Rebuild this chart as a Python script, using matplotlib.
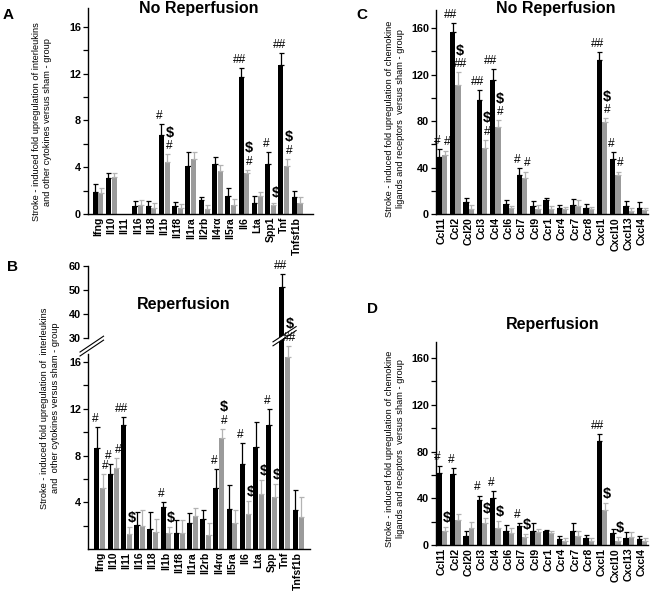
import matplotlib
matplotlib.use('Agg')
import matplotlib.pyplot as plt
import numpy as np
from matplotlib.transforms import blended_transform_factory
from matplotlib.patches import Polygon

plt.rcParams['font.family'] = ['Liberation Sans', 'DejaVu Sans']
plt.rcParams['font.weight'] = 'bold'

BLACK = '#000000'
GREY = '#9b9b9b'
GREY_ERR = '#b3b3b3'

# ---- Panel A: interleukins, no reperfusion ----
cats_A = ['Ifng', 'Il10', 'Il11', 'Il16', 'Il18', 'Il1b', 'Il1f8', 'Il1ra', 'Il2rb',
          'Il4rα', 'Il5ra', 'Il6', 'Lta', 'Spp1', 'Tnf', 'Tnfsf1b']
A_black = [1.85, 3.1, 0, 0.72, 0.67, 6.75, 0.7, 4.1, 1.2, 4.26, 1.5, 11.7, 0.93, 4.3, 12.7, 1.48]
A_black_err = [0.75, 0.4, 0, 0.35, 0.4, 0.9, 0.34, 1.2, 0.25, 0.64, 0.7, 0.8, 0.57, 1.0, 1.05, 0.46]
A_grey = [1.8, 3.2, 0, 0.75, 0.52, 4.43, 0.5, 4.7, 0.43, 3.7, 0.8, 3.48, 1.5, 0.78, 4.06, 0.96]
A_grey_err = [0.4, 0.3, 0, 0.45, 0.4, 0.67, 0.37, 0.6, 0.32, 0.47, 0.47, 0.29, 0.4, 0.2, 0.64, 0.49]
A_black_marks = ['', '', '', '', '', '#', '', '', '', '', '', '##', '', '#', '##', '']
A_grey_marks = ['', '', '', '', '', '# $', '', '', '', '', '', '# $', '', '$', '# $', '']

# ---- Panel B: interleukins, reperfusion ----
cats_B = ['Ifng', 'Il10', 'Il11', 'Il16', 'Il18', 'Il1b', 'Il1f8', 'Il1ra', 'Il2rb',
          'Il4rα', 'Il5ra', 'Il6', 'Lta', 'Spp', 'Tnf', 'Tnfsf1b']
B_black = [8.6, 6.4, 10.6, 2.08, 1.67, 3.63, 1.4, 2.25, 2.6, 5.18, 3.42, 7.28, 8.77, 10.6, 51.2, 3.36]
B_black_err = [1.85, 0.9, 0.7, 1.11, 1.53, 0.37, 1.09, 0.85, 0.7, 1.69, 2.02, 1.82, 2.08, 1.36, 5.5, 1.67]
B_grey = [5.26, 6.93, 1.32, 2.0, 1.46, 1.4, 1.4, 2.8, 1.2, 9.47, 2.19, 2.98, 4.74, 4.44, 18.9, 2.78]
B_grey_err = [1.17, 0.82, 0.58, 1.33, 1.08, 0.47, 1.09, 0.7, 1.0, 0.83, 1.14, 1.12, 1.16, 1.09, 6.4, 1.66]
B_black_marks = ['#', '#', '##', '', '', '#', '', '', '', '#', '', '#', '', '#', '##', '']
B_grey_marks = ['#', '#', '$', '', '', '$', '', '', '', '# $', '', '$', '$', '$', '## $', '']

# ---- Panels C/D: chemokines ----
cats_C = ['Ccl11', 'Ccl2', 'Ccl20', 'Ccl3', 'Ccl4', 'Ccl6', 'Ccl7', 'Ccl9', 'Ccr1', 'Ccr4',
          'Ccr7', 'Ccr8', 'Cxcl1', 'Cxcl10', 'Cxcl13', 'Cxcl4']
C_black = [48.8, 156.6, 9.9, 98, 115, 8.5, 33.3, 7, 11.7, 5, 7.9, 5, 132.7, 47.3, 7.3, 5]
C_black_err = [6.7, 7.4, 3.8, 8.5, 9.8, 3.8, 6.1, 3.8, 2.0, 2.6, 4.9, 3.5, 6.3, 5.7, 3.5, 4.9]
C_grey = [51.1, 111, 4.1, 56.6, 75, 5, 30.7, 4.7, 4.1, 4.1, 7.3, 4.1, 79, 33.3, 2.6, 3.5]
C_grey_err = [3.5, 11, 3.5, 7.4, 5.6, 2.3, 5.8, 2.9, 2.9, 2.3, 4.4, 2.3, 3.5, 3.2, 2.4, 2.0]
C_black_marks = ['#', '##', '', '##', '##', '', '#', '', '', '', '', '', '##', '#', '', '']
C_grey_marks = ['#', '## $', '', '# $', '# $', '', '#', '', '', '', '', '', '# $', '#', '', '']

cats_D = cats_C
D_black = [61.3, 60.7, 7.3, 38.8, 40, 11.7, 16.6, 12.3, 11.7, 5.5, 12.3, 5.8, 89.1, 10.2, 5.8, 5]
D_black_err = [6.7, 5.0, 5.0, 3.5, 5.8, 5.8, 2.4, 6.1, 1.4, 1.8, 6.1, 3.0, 5.9, 3.8, 5.0, 2.9]
D_grey = [12.3, 21.3, 14.6, 18.4, 14.6, 10.2, 6.7, 10.8, 10.2, 3.8, 7.9, 3.8, 29.8, 3.8, 6.7, 3.8]
D_grey_err = [3.2, 5.6, 5.0, 4.4, 5.8, 4.4, 2.9, 3.2, 2.1, 2.0, 4.4, 2.0, 5.8, 2.9, 4.3, 2.0]
D_black_marks = ['#', '#', '', '#', '#', '', '#', '', '', '', '', '', '##', '', '', '']
D_grey_marks = ['$', '', '', '$', '$', '', '$', '', '', '', '', '', '$', '$', '', '']

W, H = 660, 600


def px_axes(left, top, right, bottom):
    return [left / W, 1 - bottom / H, (right - left) / W, (bottom - top) / H]


def draw_bars(ax, n, black, black_err, grey, grey_err, bmarks, gmarks, width, offset):
    x = np.arange(n)
    groups = ((black, black_err, BLACK, BLACK, -offset, bmarks, -1.2),
              (grey, grey_err, GREY, GREY_ERR, offset, gmarks, 1.6))
    for vals, errs, col, ecol, dx, marks, tx in groups:
        vals = np.asarray(vals, float)
        errs = np.asarray(errs, float)
        ax.bar(x + dx, vals, width, color=col, zorder=2)
        m = vals > 0
        ax.errorbar(x[m] + dx, vals[m], yerr=[np.zeros(m.sum()), errs[m]], fmt='none',
                    ecolor=ecol, elinewidth=0.9, capsize=1.8, capthick=0.9, zorder=2)
        for i, mk in enumerate(marks):
            off = 1.5
            for tok in mk.split():
                if tok == '$':
                    ax.annotate('$', (x[i] + dx, vals[i] + errs[i]), xytext=(tx, off),
                                textcoords='offset points', ha='center', va='bottom',
                                fontsize=10.5, fontweight='bold', zorder=5)
                    off += 11.5
                else:
                    ax.annotate(tok, (x[i] + dx, vals[i] + errs[i]), xytext=(tx, off),
                                textcoords='offset points', ha='center', va='bottom',
                                fontsize=8.6, fontweight='normal', zorder=5)
                    off += 9


def style_axes(ax, cats, xlim):
    ax.set_xlim(*xlim)
    ax.set_xticks(np.arange(len(cats)))
    ax.set_xticklabels(cats, rotation=90, fontsize=7.6, fontweight='bold')
    ax.tick_params(axis='x', length=0, pad=2)
    ax.tick_params(axis='y', which='both', direction='out', length=3.5, width=0.9,
                   labelsize=7.8, pad=1.5)
    for s in ('top', 'right'):
        ax.spines[s].set_visible(False)
    for s in ('left', 'bottom'):
        ax.spines[s].set_linewidth(1.0)


fig = plt.figure(figsize=(6.6, 6.0), dpi=100)

# Panel A
axA = fig.add_axes(px_axes(88, 8, 313, 214))
draw_bars(axA, len(cats_A), A_black, A_black_err, A_grey, A_grey_err,
          A_black_marks, A_grey_marks, 0.38, 0.22)
style_axes(axA, cats_A, (-0.75, 16.2))
axA.set_ylim(0, 17.6)
axA.set_yticks([0, 4, 8, 12, 16])
axA.set_yticks([2, 6, 10, 14], minor=True)

# Panel B with broken axis (piecewise linear scale)
brk_y = [-10, 0, 16, 30, 60, 200]
brk_px = [-116.9, 0, 187, 211, 283, 619]


def fwd(y):
    return np.interp(y, brk_y, brk_px)


def inv(p):
    return np.interp(p, brk_px, brk_y)


axB = fig.add_axes(px_axes(88, 266, 310, 549))
axB.set_yscale('function', functions=(fwd, inv))
draw_bars(axB, len(cats_B), B_black, B_black_err, B_grey, B_grey_err,
          B_black_marks, B_grey_marks, 0.38, 0.22)
style_axes(axB, cats_B, (-0.9, 15.9))
axB.set_ylim(0, 60)
axB.set_yticks([4, 8, 12, 16, 30, 40, 50, 60])
axB.set_yticklabels(['4', '8', '12', '16', '30', '40', '50', '60'])
axB.set_yticks([2, 6, 10, 14], minor=True)
axB.spines['left'].set_visible(False)
ta = axB.transAxes
axB.plot([0, 0], [0, 0.688], color='black', lw=1.0, transform=ta, clip_on=False)
axB.plot([0, 0], [0.745, 1], color='black', lw=1.0, transform=ta, clip_on=False)
for dy in (0.0, -0.014):
    axB.plot([-0.036, 0.07], [0.696 + dy, 0.752 + dy], color='black', lw=0.8,
             transform=ta, clip_on=False)
# break across the Tnf bars
bt = blended_transform_factory(axB.transData, axB.transAxes)
tnf = cats_B.index('Tnf')
xs = [tnf - 0.9, tnf + 0.85]
band = Polygon([[xs[0], 0.718], [xs[1], 0.772], [xs[1], 0.786], [xs[0], 0.732]],
               closed=True, facecolor='white', edgecolor='none', transform=bt, zorder=4)
axB.add_patch(band)
for y0, y1 in ((0.718, 0.772), (0.732, 0.786)):
    axB.plot(xs, [y0, y1], color='black', lw=0.8, transform=bt, zorder=4, clip_on=False)

# Panel C
axC = fig.add_axes(px_axes(436, 10, 648, 214))
draw_bars(axC, len(cats_C), C_black, C_black_err, C_grey, C_grey_err,
          C_black_marks, C_grey_marks, 0.38, 0.2)
style_axes(axC, cats_C, (-0.45, 15.45))
axC.set_ylim(0, 175.5)
axC.set_yticks([0, 40, 80, 120, 160])
axC.set_yticks([20, 60, 100, 140], minor=True)

# Panel D
axD = fig.add_axes(px_axes(436, 342, 648, 545))
draw_bars(axD, len(cats_D), D_black, D_black_err, D_grey, D_grey_err,
          D_black_marks, D_grey_marks, 0.38, 0.2)
style_axes(axD, cats_D, (-0.45, 15.45))
axD.set_ylim(0, 173.7)
axD.set_yticks([0, 40, 80, 120, 160])
axD.set_yticks([20, 60, 100, 140], minor=True)


def ftext(x, y, s, **kw):
    fig.text(x / W, 1 - y / H, s, **kw)


# titles and panel letters
ftext(199, 9, 'No Reperfusion', ha='center', va='center', fontsize=11.5, fontweight='bold')
ftext(556, 9, 'No Reperfusion', ha='center', va='center', fontsize=11.5, fontweight='bold')
ftext(184, 304, 'Reperfusion', ha='center', va='center', fontsize=11.5, fontweight='bold')
ftext(553, 325, 'Reperfusion', ha='center', va='center', fontsize=11.5, fontweight='bold')
for lab, x, y in (('A', 8, 15), ('B', 12, 267), ('C', 362, 15), ('D', 372, 309)):
    ftext(x, y, lab, ha='center', va='center', fontsize=11, fontweight='bold')

# y-axis labels
ylab_kw = dict(rotation=90, ha='center', va='center', fontsize=6.7, fontweight='normal',
               multialignment='center', linespacing=1.3)
ftext(42, 122, 'Stroke - induced fold upregulation of interleukins\n'
               'and other cytokines versus sham - group', **ylab_kw)
ftext(50, 408, 'Stroke - induced fold upregulation of  interleukins\n'
               'and  other cytokines versus sham - group', **ylab_kw)
ftext(395, 119, 'Stroke - induced fold upregulation of chemokine\n'
                'ligands and receptors  versus sham - group', **ylab_kw)
ftext(395, 449, 'Stroke - induced fold upregulation of chemokine\n'
                'ligands and receptors  versus sham - group', **ylab_kw)

fig.savefig('out.png', dpi=100)
